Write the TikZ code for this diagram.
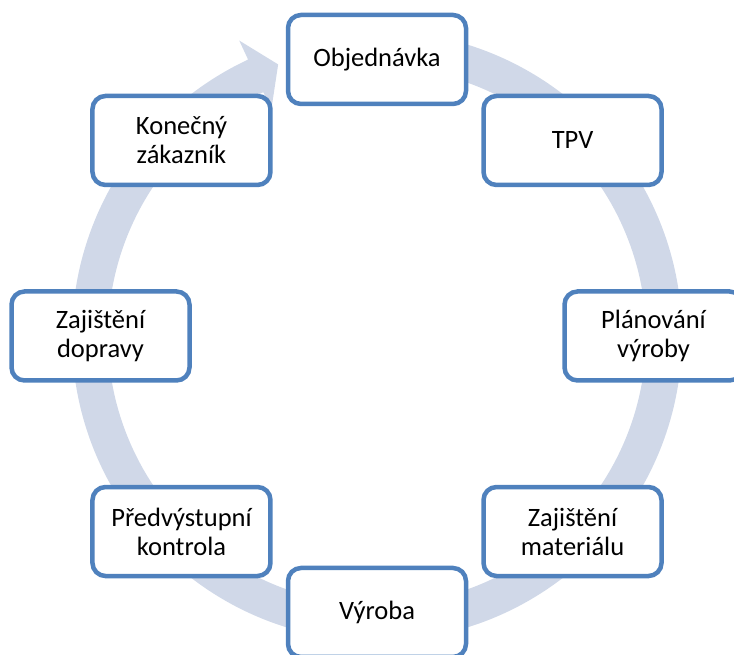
\documentclass[tikz,border=0pt]{standalone}
\usepackage{fontspec}
\setmainfont{Carlito}
\usetikzlibrary{calc}
\begin{document}
\begin{tikzpicture}[x=1pt,y=1pt,
  stage/.style={draw=stageblue, line width=4.5pt, fill=white, rounded corners=13pt,
    minimum width=178pt, minimum height=89pt, align=center, inner sep=2pt,
    font=\fontsize{26.5}{29}\selectfont},
  cyclearrow/.style={fill=bandgray, draw=none}]
\definecolor{stageblue}{HTML}{4F81BD}
\definecolor{bandgray}{HTML}{D0D8E8}
\useasboundingbox (0,0) rectangle (734,655);
\clip (0,0) rectangle (734,655);
\coordinate (C) at (377,319);
% circular arrow running clockwise behind the stages
\begin{scope}[shift={(C)}]
  \fill[cyclearrow] (90:305pt) arc[start angle=90, end angle=-245, radius=305pt]
    -- (-245:326pt) -- (-250:289pt) -- (-245:250pt) -- (-245:269pt)
    arc[start angle=-245, end angle=90, radius=269pt] -- cycle;
\end{scope}
% stages of the cycle
\node[stage] (obj) at ($(C)+(90:276.5pt)$) {Objednávka};
\node[stage] (tpv) at ($(C)+(45:276.5pt)$) {TPV};
\node[stage] (plan) at ($(C)+(0:276.5pt)$) {Plánování\\výroby};
\node[stage] (mat) at ($(C)+(-45:276.5pt)$) {Zajištění\\materiálu};
\node[stage] (vyr) at ($(C)+(-90:276.5pt)$) {Výroba};
\node[stage] (kon) at ($(C)+(-135:276.5pt)$) {Předvýstupní\\kontrola};
\node[stage] (dop) at ($(C)+(180:276.5pt)$) {Zajištění\\dopravy};
\node[stage] (zak) at ($(C)+(135:276.5pt)$) {Konečný\\zákazník};
\end{tikzpicture}
\end{document}
